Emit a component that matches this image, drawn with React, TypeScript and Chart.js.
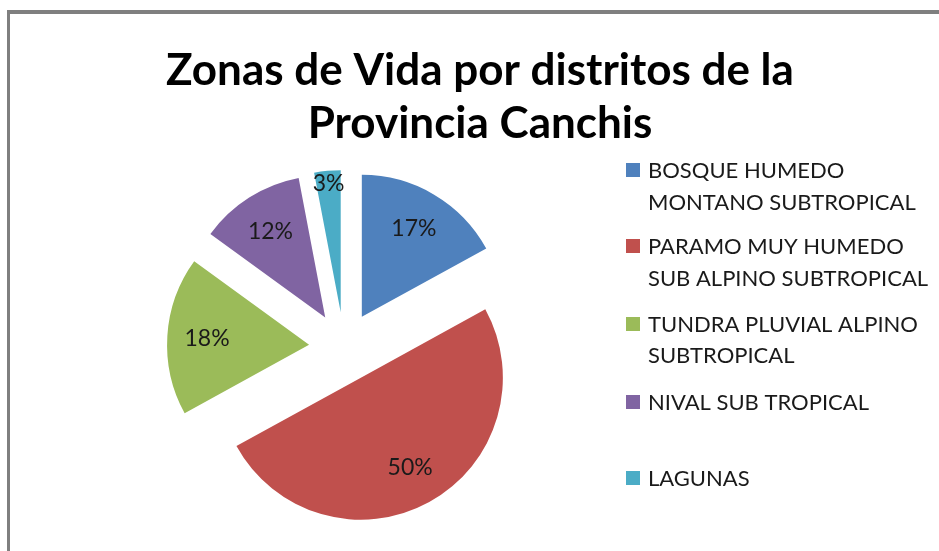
import React, { useEffect, useRef } from "react";
import { Chart, registerables } from "chart.js";

Chart.register(...registerables);

const TITLE_LINES = ["Zonas de Vida por distritos de la", "Provincia Canchis"];
const CATEGORIES = [
  "BOSQUE HUMEDO MONTANO SUBTROPICAL",
  "PARAMO MUY HUMEDO SUB ALPINO SUBTROPICAL",
  "TUNDRA PLUVIAL ALPINO SUBTROPICAL",
  "NIVAL SUB TROPICAL",
  "LAGUNAS",
];
const LEGEND_LINES = [
  ["BOSQUE HUMEDO", "MONTANO SUBTROPICAL"],
  ["PARAMO MUY HUMEDO", "SUB ALPINO SUBTROPICAL"],
  ["TUNDRA PLUVIAL ALPINO", "SUBTROPICAL"],
  ["NIVAL SUB TROPICAL"],
  ["LAGUNAS"],
];
const VALUES = [17, 50, 18, 12, 3];
const COLORS = ["#4F81BD", "#C0504D", "#9BBB59", "#8064A2", "#4BACC6"];

const FONT = "Lato, 'Open Sans', sans-serif";
const EXPLODE = 35;

const explodePlugin = {
  id: "explode",
  beforeDatasetDraw(chart: any, args: any) {
    const meta = args.meta;
    const ctx = chart.ctx;
    meta.data.forEach((arc: any) => {
      const mid = (arc.startAngle + arc.endAngle) / 2;
      ctx.save();
      ctx.translate(Math.cos(mid) * EXPLODE, Math.sin(mid) * EXPLODE);
      arc.draw(ctx, chart.chartArea);
      ctx.restore();
    });
    return false;
  },
};

const decorPlugin = {
  id: "decor",
  afterDraw(chart: any) {
    const ctx = chart.ctx;
    ctx.save();
    // title
    ctx.fillStyle = "#000";
    ctx.textAlign = "center";
    ctx.textBaseline = "alphabetic";
    ctx.font = `bold 44px ${FONT}`;
    const titleBaselines = [85, 138];
    TITLE_LINES.forEach((t, i) => ctx.fillText(t, 480, titleBaselines[i]));

    // data labels
    const meta = chart.getDatasetMeta(0);
    const total = VALUES.reduce((a, b) => a + b, 0);
    ctx.font = `23px ${FONT}`;
    ctx.fillStyle = "#1a1a1a";
    ctx.textBaseline = "middle";
    meta.data.forEach((arc: any, i: number) => {
      const mid = (arc.startAngle + arc.endAngle) / 2;
      const cx = arc.x + Math.cos(mid) * EXPLODE;
      const cy = arc.y + Math.sin(mid) * EXPLODE;
      const frac = VALUES[i] / total < 0.05 ? 0.91 : 0.72;
      const r = arc.outerRadius * frac;
      const txt = Math.round((VALUES[i] / total) * 100) + "%";
      ctx.fillText(txt, cx + Math.cos(mid) * r, cy + Math.sin(mid) * r);
    });

    // legend
    const rowCenters = [[170, 202], [246, 278], [324, 355], [402], [478]];
    ctx.textAlign = "left";
    ctx.font = `22px ${FONT}`;
    LEGEND_LINES.forEach((lines, i) => {
      ctx.fillStyle = COLORS[i];
      ctx.fillRect(626, rowCenters[i][0] - 7, 14, 14);
      ctx.fillStyle = "#1a1a1a";
      lines.forEach((ln, j) => ctx.fillText(ln, 648, rowCenters[i][j] + 1));
    });
    ctx.restore();
  },
};

export default function App() {
  const ref = useRef<HTMLCanvasElement | null>(null);
  useEffect(() => {
    if (!ref.current) return;
    const chart = new Chart(ref.current, {
      type: "pie",
      data: {
        labels: CATEGORIES,
        datasets: [
          {
            data: VALUES,
            backgroundColor: COLORS,
            borderWidth: 0,
          },
        ],
      },
      options: {
        animation: false,
        responsive: false,
        radius: 142,
        layout: { padding: { left: 184, right: 435, top: 187, bottom: 44 } },
        plugins: {
          legend: { display: false },
          title: { display: false },
          tooltip: { enabled: false },
        },
      },
      plugins: [explodePlugin, decorPlugin],
    });
    return () => chart.destroy();
  }, []);
  return (
    <div style={{ position: "fixed", left: 0, top: 0, width: 939, height: 551, background: "#fff", overflow: "hidden" }}>
      <div
        style={{
          position: "absolute",
          left: 7,
          top: 10,
          width: 1000,
          height: 700,
          borderLeft: "3px solid #7f7f7f",
          borderTop: "4px solid #7f7f7f",
        }}
      />
      <canvas ref={ref} width={939} height={551} style={{ position: "absolute", left: 0, top: 0 }} />
    </div>
  );
}
